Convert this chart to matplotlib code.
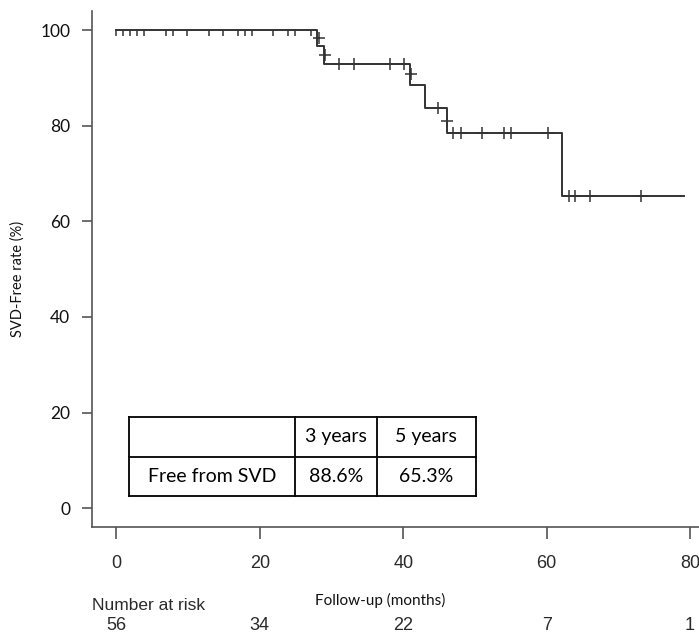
import matplotlib
matplotlib.use('Agg')
import matplotlib.pyplot as plt
from matplotlib.path import Path
from matplotlib.transforms import blended_transform_factory

# KM curve: step times (months) and SVD-free rate (%)
step_t = [0, 28.0, 29.0, 41.0, 43.0, 46.1, 62.2, 79.2]
step_s = [100, 96.6, 93.0, 88.6, 83.6, 78.4, 65.3, 65.3]

# censored patients while still at 100%
cens_top_t = [0, 0.9, 1.9, 2.9, 3.8, 6.9, 7.9, 9.9, 12.9, 14.9, 16.9, 17.9,
              18.9, 21.9, 23.9, 24.9, 27.1]
# censored patients later on
cens_t = [28.2, 29.1, 31.1, 33.1, 38.1, 40.1, 41.1, 44.9, 46.1, 47.0, 48.1,
          51.0, 54.1, 55.1, 60.2, 63.1, 64.0, 66.0, 73.2]
cens_s = [98.3, 94.8, 93.0, 93.0, 93.0, 93.0, 90.8, 83.6, 81.0, 78.4, 78.4,
          78.4, 78.4, 78.4, 78.4, 65.3, 65.3, 65.3, 65.3]

risk_t = [0, 20, 40, 60, 80]
risk_n = [56, 34, 22, 7, 1]

tab_cols = ['3 years', '5 years']
tab_row = 'Free from SVD'
tab_vals = ['88.6%', '65.3%']

W, H = 699, 635
fig = plt.figure(figsize=(W / 100, H / 100), dpi=100)


def fx(x):
    return x / W


def fy(y):
    return 1 - y / H


# axes placed in pixels (R style, 4% padding)
x0, x1 = 92, 714.4
y0, y1 = 10.9, 527.4
ax = fig.add_axes([fx(x0), fy(y1), fx(x1 - x0), (y1 - y0) / H])
ax.set_xlim(-3.4, 83.4)
ax.set_ylim(-4, 104)

line_col = '#333333'
ax.step(step_t, step_s, where='post', color=line_col, lw=1.4)

down_tick = Path([(0, 0), (0, -1)], [Path.MOVETO, Path.LINETO])
ax.plot(cens_top_t, [100] * len(cens_top_t), ls='none', marker=down_tick,
        ms=8.6, mew=1.1, color=line_col)
ax.plot(cens_t, cens_s, ls='none', marker='+', ms=8.5, mew=1.1, color=line_col)

for side in ['top', 'right']:
    ax.spines[side].set_visible(False)
for side in ['left', 'bottom']:
    ax.spines[side].set_color('#555555')
    ax.spines[side].set_linewidth(1.2)

ax.set_xticks([0, 20, 40, 60, 80])
ax.set_yticks([0, 20, 40, 60, 80, 100])
ax.tick_params(axis='both', color='#555555', width=1.2)
ax.tick_params(axis='y', length=7.2, pad=8.5, labelsize=12.5, labelcolor='#111111')
ax.tick_params(axis='x', length=8.6, pad=11, labelsize=13, labelcolor='#2a2a2a')
for lab in ax.get_yticklabels():
    lab.set_family('Lato')
for lab in ax.get_xticklabels():
    lab.set_family('Liberation Sans')

fig.text(fx(18), fy(279), 'SVD-Free rate (%)', rotation=90, ha='center',
         va='center', family='Lato', fontsize=10.5, color='#111111')
fig.text(fx(380), fy(600), 'Follow-up (months)', ha='center', va='center',
         family='Lato', fontsize=11, color='#111111')
fig.text(fx(92), fy(605), 'Number at risk', ha='left', va='center',
         family='Liberation Sans', fontsize=12.5, color='#2a2a2a')

tr = blended_transform_factory(ax.transData, fig.transFigure)
for t, n in zip(risk_t, risk_n):
    ax.text(t, fy(625), str(n), transform=tr, ha='center', va='center',
            family='Liberation Sans', fontsize=13, color='#2a2a2a', clip_on=False)

# summary table drawn on top of the plot
tl, tc1, tc2, tr_ = 129.3, 295.3, 376.7, 476
tt, tm, tb = 416.7, 456.7, 495.7
kw = dict(color='black', lw=1.3, transform=fig.transFigure)
for yy in (tt, tm, tb):
    fig.add_artist(plt.Line2D([fx(tl), fx(tr_)], [fy(yy), fy(yy)], **kw))
for xx in (tl, tc1, tc2, tr_):
    fig.add_artist(plt.Line2D([fx(xx), fx(xx)], [fy(tt), fy(tb)], **kw))
tkw = dict(ha='center', va='center', family='Lato', fontsize=14, color='black')
fig.text(fx((tc1 + tc2) / 2), fy((tt + tm) / 2), tab_cols[0], **tkw)
fig.text(fx((tc2 + tr_) / 2), fy((tt + tm) / 2), tab_cols[1], **tkw)
fig.text(fx((tl + tc1) / 2), fy((tm + tb) / 2), tab_row, **tkw)
fig.text(fx((tc1 + tc2) / 2), fy((tm + tb) / 2), tab_vals[0], **tkw)
fig.text(fx((tc2 + tr_) / 2), fy((tm + tb) / 2), tab_vals[1], **tkw)

fig.savefig('out.png', dpi=100)
